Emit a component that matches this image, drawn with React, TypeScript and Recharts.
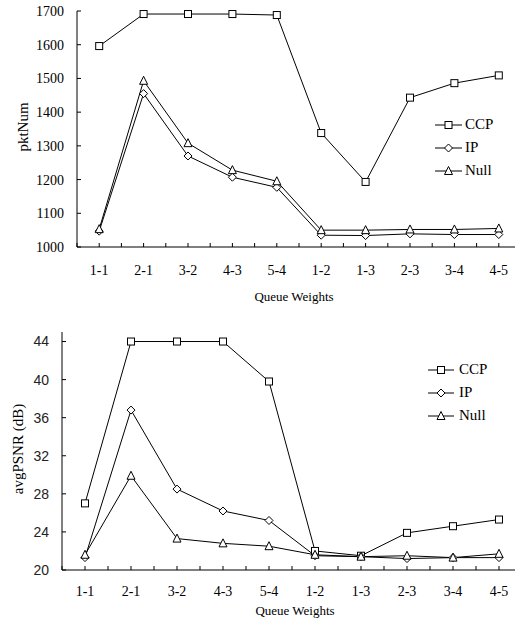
import React from 'react';
import { LineChart, Line, XAxis, YAxis, Legend } from 'recharts';

// categories along the x axis (queue weight ratios)
const categories = ['1-1', '2-1', '3-2', '4-3', '5-4', '1-2', '1-3', '2-3', '3-4', '4-5'];

// top chart: packets received
const pktCCP = [1596, 1691, 1691, 1691, 1688, 1338, 1193, 1443, 1486, 1509];
const pktIP = [1047, 1455, 1270, 1207, 1177, 1035, 1034, 1039, 1037, 1037];
const pktNull = [1053, 1493, 1308, 1228, 1195, 1050, 1050, 1052, 1052, 1055];
const pktTicks = [1000, 1100, 1200, 1300, 1400, 1500, 1600, 1700];

// bottom chart: average PSNR
const psnrCCP = [27.0, 44, 44, 44, 39.8, 22.0, 21.5, 23.9, 24.6, 25.3];
const psnrIP = [21.3, 36.8, 28.5, 26.2, 25.2, 21.5, 21.4, 21.2, 21.3, 21.3];
const psnrNull = [21.6, 29.9, 23.3, 22.8, 22.5, 21.6, 21.4, 21.5, 21.3, 21.7];
const psnrTicks = [20, 24, 28, 32, 36, 40, 44];

const seriesNames = ['CCP', 'IP', 'Null'];
const seriesShapes = ['square', 'diamond', 'triangle'];

// x is numeric so ticks can sit both on category centres and on boundaries
const xTicks = Array.from({ length: 21 }, (_, i) => i / 2);

const serif = "'Liberation Serif', 'Times New Roman', serif";
const sans = "'Liberation Sans', Arial, sans-serif";

function buildRows(a: number[], b: number[], c: number[]) {
    return categories.map((cat, i) => ({ x: i + 0.5, cat, CCP: a[i], IP: b[i], Null: c[i] }));
}

const pktData = buildRows(pktCCP, pktIP, pktNull);
const psnrData = buildRows(psnrCCP, psnrIP, psnrNull);

function Marker({ shape, cx, cy }: { shape: string; cx: number; cy: number }) {
    if (shape === 'square') {
        return <rect x={cx - 3.5} y={cy - 3.5} width={7} height={7} fill="#fff" stroke="#000" strokeWidth={1} />;
    }
    if (shape === 'diamond') {
        return <polygon points={`${cx},${cy - 4} ${cx + 4},${cy} ${cx},${cy + 4} ${cx - 4},${cy}`} fill="#fff" stroke="#000" strokeWidth={1} />;
    }
    return <polygon points={`${cx},${cy - 4.5} ${cx + 4},${cy + 3.5} ${cx - 4},${cy + 3.5}`} fill="#fff" stroke="#000" strokeWidth={1} />;
}

const dotFor = (shape: string) => (props: any) => {
    const { cx, cy, index } = props;
    if (cx == null || cy == null) return <g key={`d-${index}`} />;
    return <g key={`d-${index}`}><Marker shape={shape} cx={cx} cy={cy} /></g>;
};

const tickLabel = (v: number) => (v % 1 === 0.5 ? categories[Math.floor(v)] : '');

function LegendBox({ lineLen, gap }: { lineLen: number; gap: number }) {
    return (
        <div style={{ display: 'flex', flexDirection: 'column' }}>
            {seriesNames.map((name, i) => (
                <div key={name} style={{ display: 'flex', alignItems: 'center', height: 23 }}>
                    <svg width={lineLen} height={12} style={{ display: 'block' }}>
                        <line x1={0} y1={6} x2={lineLen} y2={6} stroke="#000" strokeWidth={1} />
                        <Marker shape={seriesShapes[i]} cx={lineLen / 2} cy={6} />
                    </svg>
                    <span style={{ marginLeft: gap, fontFamily: serif, fontSize: 15, color: '#000', lineHeight: '15px' }}>{name}</span>
                </div>
            ))}
        </div>
    );
}

const yTitle = (text: string, x: number, y: number) => () => (
    <text x={x} y={y} transform={`rotate(-90 ${x} ${y})`} textAnchor="middle" dominantBaseline="central" style={{ fontFamily: serif }} fontSize={15} fill="#000">
        {text}
    </text>
);

const xTitle = (x: number, y: number) => () => (
    <text x={x} y={y} textAnchor="middle" style={{ fontFamily: serif }} fontSize={13} fill="#000">
        Queue Weights
    </text>
);

export default function App() {
    return (
        <div style={{ position: 'absolute', left: 0, top: 0, width: 515, height: 632, overflow: 'hidden', background: '#fff' }}>
            <div style={{ position: 'absolute', left: 0, top: 0 }}>
                <LineChart width={530} height={310} data={pktData} margin={{ top: 11, right: 9, left: 0, bottom: 33 }}>
                    <XAxis
                        type="number" dataKey="x" domain={[0, 10]} ticks={xTicks} interval={0}
                        tickFormatter={tickLabel} tickSize={-4} tickMargin={22} height={30}
                        stroke="#000" tick={{ style: { fontFamily: serif }, fontSize: 14, fill: '#000' }}
                        label={{ content: xTitle(294, 301) }}
                    />
                    <YAxis
                        domain={[1000, 1700]} ticks={pktTicks} interval={0} width={77}
                        tickSize={-4} tickMargin={17} stroke="#000"
                        tick={{ style: { fontFamily: serif }, fontSize: 14, fill: '#000' }}
                        label={{ content: yTitle('pktNum', 23, 127) }}
                    />
                    <Legend layout="vertical" align="center" verticalAlign="middle"
                        wrapperStyle={{ left: 435, top: 113, width: 80 }}
                        content={() => <LegendBox lineLen={27} gap={3} />} />
                    <Line dataKey="CCP" stroke="#000" strokeWidth={1} dot={dotFor('square')} isAnimationActive={false} />
                    <Line dataKey="IP" stroke="#000" strokeWidth={1} dot={dotFor('diamond')} isAnimationActive={false} />
                    <Line dataKey="Null" stroke="#000" strokeWidth={1} dot={dotFor('triangle')} isAnimationActive={false} />
                </LineChart>
            </div>
            <div style={{ position: 'absolute', left: 0, top: 310 }}>
                <LineChart width={530} height={322} data={psnrData} margin={{ top: 22, right: 8, left: 0, bottom: 32 }}>
                    <XAxis
                        type="number" dataKey="x" domain={[0, 10]} ticks={xTicks} interval={0}
                        tickFormatter={tickLabel} tickSize={-4} tickMargin={20} height={30}
                        stroke="#000" tick={{ style: { fontFamily: serif }, fontSize: 14, fill: '#000' }}
                        label={{ content: xTitle(295, 305) }}
                    />
                    <YAxis
                        domain={[20, 45]} ticks={psnrTicks} interval={0} width={62}
                        tickSize={-4} tickMargin={17} stroke="#000"
                        tick={{ style: { fontFamily: sans }, fontSize: 14, fill: '#222' }}
                        label={{ content: yTitle('avgPSNR (dB)', 18, 139) }}
                    />
                    <Legend layout="vertical" align="center" verticalAlign="middle"
                        wrapperStyle={{ left: 428, top: 48, width: 90 }}
                        content={() => <LegendBox lineLen={26} gap={5} />} />
                    <Line dataKey="CCP" stroke="#000" strokeWidth={1} dot={dotFor('square')} isAnimationActive={false} />
                    <Line dataKey="IP" stroke="#000" strokeWidth={1} dot={dotFor('diamond')} isAnimationActive={false} />
                    <Line dataKey="Null" stroke="#000" strokeWidth={1} dot={dotFor('triangle')} isAnimationActive={false} />
                </LineChart>
            </div>
        </div>
    );
}
